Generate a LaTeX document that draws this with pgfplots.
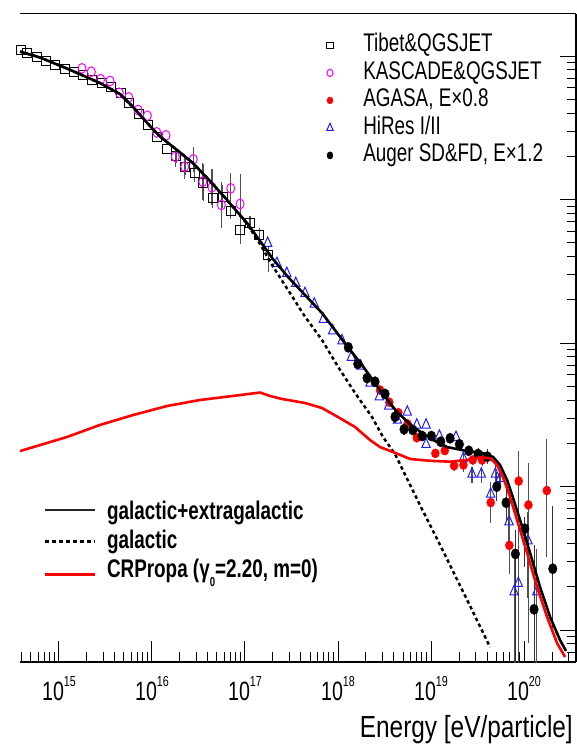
\documentclass[border=0pt]{standalone}
\usepackage{fontspec}
\setmainfont{Liberation Sans}[FakeStretch=0.74]
\newfontfamily\labelfamily{Liberation Sans}[FakeStretch=0.80]
\usepackage{pgfplots}
\usepackage{pgfplotstable}
\pgfplotsset{compat=1.18}
\pgfplotsset{every non boxed x axis/.style={}, every non boxed y axis/.style={},
  legmark/.style={legend image code/.code={\draw[##1, mark size=#1] plot coordinates {(0pt,0pt)};}}}
\newcommand\tickfont{\fontsize{26.5}{30}\selectfont}
\newcommand\legfont{\fontsize{25.5}{30}\selectfont}
\newcommand\labfont{\labelfamily\fontsize{30.5}{34}\selectfont}
\newcommand\tp[1]{10\raisebox{13.4pt}{\fontsize{14.5}{14.5}\selectfont #1}}
\definecolor{ebar}{RGB}{80,80,80}
\definecolor{hiresblue}{RGB}{30,30,255}
\definecolor{kmag}{RGB}{255,0,255}

% log10(E/eV)  log10(flux, arb.)  err+  err-
\pgfplotstableread{
lx ly ep em
14.589 5.042 0 0
14.653 5.019 0 0
14.761 4.995 0 0
14.861 4.967 0 0
14.961 4.939 0 0
15.068 4.907 0 0
15.162 4.891 0 0
15.255 4.866 0 0
15.355 4.833 0 0
15.463 4.810 0 0
15.563 4.782 0 0
15.664 4.740 0 0
15.756 4.670 0 0
15.857 4.596 0 0
15.957 4.517 0 0
16.051 4.433 0 0
16.158 4.350 0 0
16.258 4.303 0.05 0.05
16.358 4.229 0.06 0.06
16.459 4.183 0.06 0.06
16.552 4.117 0.13 0.13
16.653 4.008 0.07 0.07
16.761 4.020 0.08 0.08
16.847 3.922 0.06 0.06
16.947 3.787 0.10 0.10
17.054 3.838 0.05 0.05
17.154 3.753 0.05 0.05
17.251 3.613 0.06 0.12
}\tibet

\pgfplotstableread{
lx ly ep em
15.248 4.914 0 0
15.348 4.891 0 0
15.449 4.838 0 0
15.549 4.826 0 0
15.649 4.744 0 0
15.750 4.712 0 0
15.850 4.624 0 0
15.950 4.584 0 0
16.051 4.468 0 0
16.151 4.447 0 0
16.251 4.298 0.07 0.07
16.352 4.229 0.085 0.085
16.444 4.280 0.085 0.085
16.546 4.124 0.13 0.13
16.645 4.085 0.125 0.125
16.746 3.962 0.16 0.16
16.847 4.078 0.11 0.11
16.947 3.969 0.21 0.21
}\kascade

\pgfplotstableread{
lx ly ep em
18.452 2.672 0 0
18.552 2.587 0 0
18.649 2.514 0 0
18.748 2.436 0 0
18.847 2.340 0 0
19.047 2.231 0 0
19.148 2.250 0 0
19.248 2.145 0.04 0.04
19.348 2.150 0.05 0.05
19.449 2.185 0.03 0.03
19.549 2.185 0.04 0.04
19.642 1.888 0.09 0.14
19.842 1.590 0.12 0.20
19.943 2.038 0.21 1.16
20.047 1.871 0.29 0.96
20.245 1.972 0.36 0.46
}\agasa

\pgfplotstableread{
lx ly ep em
17.244 3.695 0 0
17.344 3.555 0 0
17.449 3.486 0 0
17.546 3.416 0 0
17.645 3.346 0 0
17.745 3.272 0 0
17.842 3.165 0 0
17.943 3.086 0 0
18.043 3.016 0 0
18.143 2.900 0 0
18.244 2.840 0 0
18.344 2.721 0 0
18.444 2.626 0 0
18.545 2.561 0 0
18.638 2.463 0 0
18.745 2.519 0 0
18.847 2.429 0 0
18.947 2.429 0 0
18.947 2.294 0 0
19.090 2.352 0 0
19.269 2.343 0 0
19.348 2.197 0.03 0.03
19.441 2.087 0.05 0.06
19.541 2.087 0.05 0.06
19.642 1.948 0.08 0.10
19.692 2.087 0.06 0.06
19.742 2.057 0.06 0.07
19.839 1.755 0.12 0.15
19.893 1.267 0.25 0.70
19.939 1.325 0.30 0.70
20.043 1.622 0.20 0.40
20.137 1.267 0.30 0.60
}\hires

\pgfplotstableread{
lx ly ep em
18.111 2.970 0 0
18.212 2.854 0 0
18.312 2.756 0 0
18.398 2.730 0.03 0.03
18.506 2.645 0 0
18.613 2.486 0.04 0.04
18.710 2.399 0.04 0.04
18.804 2.394 0 0
18.904 2.352 0 0
19.004 2.352 0 0
19.105 2.312 0 0
19.205 2.336 0 0
19.305 2.294 0 0
19.406 2.249 0.02 0.02
19.506 2.226 0.04 0.04
19.606 2.208 0.05 0.05
19.707 1.999 0.10 0.10
19.807 1.887 0.13 0.13
19.907 1.530 0.17 0.90
20.008 1.706 0.08 0.27
20.108 1.144 0.45 0.50
20.309 1.427 0.44 0.41
}\auger

\begin{document}
\begin{tikzpicture}
% ---------------- data axis ----------------
\begin{axis}[
  at={(0pt,0pt)}, anchor=south west,
  scale only axis, width=556pt, height=648pt,
  xmin=14.581, xmax=20.559, ymin=0.777, ymax=5.293,
  axis x line*=bottom, axis y line=none,
  x axis line style={-, line width=1.4pt},
  xtick={15,16,17,18,19,20},
  xticklabels={\tp{15},\tp{16},\tp{17},\tp{18},\tp{19},\tp{20}},
  minor xtick={14.602,14.699,14.778,14.845,14.903,14.954,
    15.301,15.477,15.602,15.699,15.778,15.845,15.903,15.954,
    16.301,16.477,16.602,16.699,16.778,16.845,16.903,16.954,
    17.301,17.477,17.602,17.699,17.778,17.845,17.903,17.954,
    18.301,18.477,18.602,18.699,18.778,18.845,18.903,18.954,
    19.301,19.477,19.602,19.699,19.778,19.845,19.903,19.954,
    20.301,20.477},
  ytick=\empty,
  tick align=inside, major tick length=21pt, minor tick length=10pt,
  tick style={black, line width=1pt},
  xticklabel style={font=\tickfont, anchor=base, yshift=-38pt, inner sep=0pt},
  xlabel={Energy [eV/particle]},
  xlabel style={at={(axis description cs:1,0)}, anchor=base east, yshift=-75.5pt, xshift=-3pt, font=\labfont, inner sep=0pt},
  legend style={draw=none, fill=none, inner sep=0pt, outer sep=0pt,
    at={(axis description cs:0.5516,0.9727)}, anchor=north west,
    font=\legfont, row sep=0pt, column sep=30pt,
    nodes={inner sep=0pt, text height=20pt, text depth=7.5pt}},
  legend cell align=left,
]
\addplot[only marks, mark=square, mark size=4.4pt, mark options={draw=black, line width=1pt, solid},
  legmark=3.3pt,
  error bars/.cd, y dir=both, y explicit, error mark=none, error bar style={ebar, line width=1.1pt}]
  table[x=lx, y=ly, y error plus=ep, y error minus=em] {\tibet};
\addlegendentry{Tibet\&QGSJET}
\addplot[only marks, mark=o, mark size=4pt, mark options={draw=kmag, line width=1pt, yscale=1.22, solid},
  legmark=3pt,
  error bars/.cd, y dir=both, y explicit, error mark=none, error bar style={ebar, line width=1.1pt}]
  table[x=lx, y=ly, y error plus=ep, y error minus=em] {\kascade};
\addlegendentry{KASCADE\&QGSJET}
\addplot[only marks, mark=*, mark size=4pt, mark options={draw=red, fill=red, yscale=1.15, solid},
  legmark=3pt,
  error bars/.cd, y dir=both, y explicit, error mark=none, error bar style={ebar, line width=1.1pt}]
  table[x=lx, y=ly, y error plus=ep, y error minus=em] {\agasa};
\addlegendentry{AGASA, E×0.8}
\addplot[only marks, mark=triangle, mark size=4.8pt, mark options={draw=hiresblue, line width=1pt, yscale=1.3, solid},
  legmark=3.6pt,
  error bars/.cd, y dir=both, y explicit, error mark=none, error bar style={ebar, line width=1.1pt}]
  table[x=lx, y=ly, y error plus=ep, y error minus=em] {\hires};
\addlegendentry{HiRes I/II}
\addplot[only marks, mark=*, mark size=4.3pt, mark options={draw=black, fill=black, yscale=1.2, solid},
  legmark=3pt,
  error bars/.cd, y dir=both, y explicit, error mark=none, error bar style={black!80, line width=1.1pt}]
  table[x=lx, y=ly, y error plus=ep, y error minus=em] {\auger};
\addlegendentry{Auger SD\&FD, E×1.2}
\end{axis}
% ---------------- model curves axis ----------------
\begin{axis}[
  at={(0pt,0pt)}, anchor=south west,
  scale only axis, width=556pt, height=648pt,
  xmin=14.581, xmax=20.559, ymin=0.777, ymax=5.293,
  axis x line*=top, axis y line*=right,
  x axis line style={-, line width=1pt},
  y axis line style={-, line width=1.4pt},
  xtick=\empty,
  ytick={1,2,3,4,5}, yticklabels={},
  minor ytick={0.845,0.903,0.954,
    1.301,1.477,1.602,1.699,1.778,1.845,1.903,1.954,
    2.301,2.477,2.602,2.699,2.778,2.845,2.903,2.954,
    3.301,3.477,3.602,3.699,3.778,3.845,3.903,3.954,
    4.301,4.477,4.602,4.699,4.778,4.845,4.903,4.954},
  tick align=inside, major tick length=16.5pt, minor tick length=9pt,
  tick style={black, line width=1pt},
  legend style={draw=none, fill=none, inner sep=0pt, outer sep=0pt,
    at={(axis description cs:0.0414,0.2511)}, anchor=north west,
    font=\legfont\bfseries, row sep=1pt, column sep=11pt,
    nodes={inner sep=0pt, text height=20pt, text depth=8pt}},
  legend cell align=left,
]
\addplot[black, line width=2.6pt, line join=round,
  legend image code/.code={\draw[black!85, line width=1.1pt] (0pt,3.3pt) -- (50pt,3.3pt);}]
  coordinates {(14.581,5.031) (14.796,4.990) (15.086,4.913) (15.441,4.812) (15.656,4.735) (15.796,4.645) (15.979,4.512) (16.086,4.439) (16.269,4.345) (16.441,4.254) (16.624,4.129) (16.807,3.997) (17.022,3.836) (17.162,3.711) (17.301,3.585) (17.463,3.460) (17.646,3.334) (17.828,3.209) (18.097,2.979) (18.258,2.847) (18.452,2.672) (18.635,2.519) (18.807,2.415) (19.022,2.324) (19.172,2.275) (19.387,2.247) (19.559,2.233) (19.667,2.206) (19.742,2.150) (19.818,2.045) (19.882,1.920) (19.957,1.767) (20.065,1.537) (20.172,1.300) (20.280,1.091) (20.387,0.930) (20.452,0.854)};
\addlegendentry{galactic+extragalactic}
\addplot[black, line width=2.5pt, dash pattern=on 3.5pt off 3pt,
  legend image code/.code={\draw[black, line width=2.6pt, dash pattern=on 4pt off 3pt] (0pt,1pt) -- (50pt,1pt);}]
  coordinates {(14.581,5.031) (14.796,4.990) (15.086,4.913) (15.441,4.812) (15.656,4.735) (15.796,4.645) (15.979,4.512) (16.086,4.439) (16.269,4.345) (16.441,4.254) (16.624,4.129) (16.807,3.997) (17.022,3.830) (17.162,3.690) (17.291,3.544) (17.463,3.369) (17.646,3.183) (17.828,3.021) (18.000,2.835) (18.183,2.652) (18.366,2.484) (18.484,2.345) (18.613,2.226) (18.742,2.055) (18.882,1.870) (19.022,1.690) (19.172,1.495) (19.312,1.310) (19.452,1.125) (19.635,0.880)};
\addlegendentry{galactic}
\addplot[red, line width=2.6pt, line join=round,
  legend image code/.code={\draw[red, line width=3pt] (0pt,-3.3pt) -- (50pt,-3.3pt);}]
  coordinates {(14.581,2.247) (15.086,2.345) (15.441,2.429) (15.796,2.498) (16.162,2.561) (16.516,2.603) (16.871,2.631) (17.162,2.655) (17.269,2.631) (17.398,2.610) (17.646,2.582) (17.828,2.547) (18.000,2.484) (18.183,2.415) (18.344,2.324) (18.452,2.275) (18.592,2.240) (18.775,2.192) (18.882,2.185) (19.022,2.178) (19.205,2.173) (19.387,2.185) (19.527,2.203) (19.635,2.197) (19.710,2.150) (19.775,2.066) (19.850,1.927) (19.925,1.767) (20.033,1.537) (20.140,1.300) (20.248,1.091) (20.355,0.909) (20.441,0.812)};
\addlegendentry{CRPropa (γ\raisebox{-9.4pt}{\fontsize{13}{13}\selectfont 0}=2.20, m=0)}
\end{axis}
\pgfresetboundingbox
\path[use as bounding box] (-20pt,-82pt) rectangle (557pt,662pt);
\end{tikzpicture}
\end{document}
